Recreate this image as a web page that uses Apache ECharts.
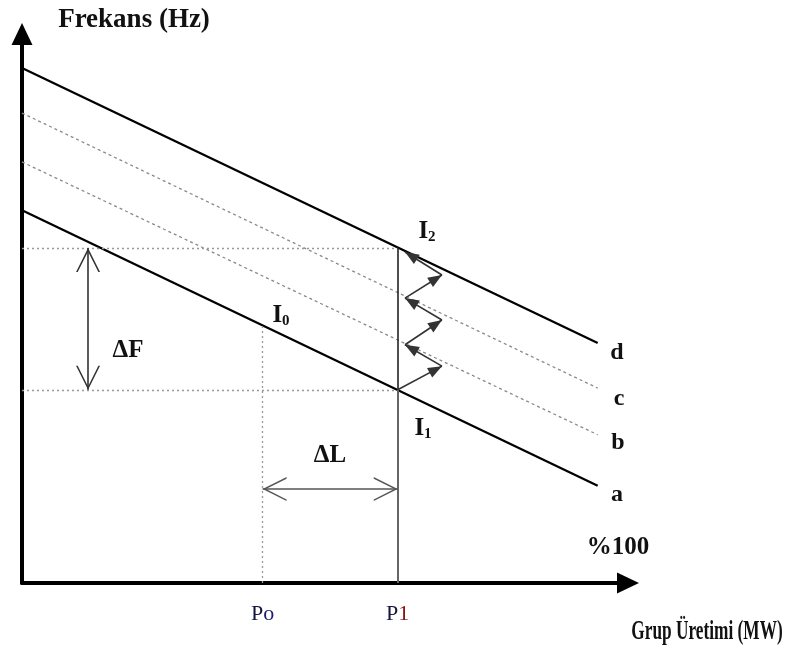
<!DOCTYPE html>
<html>
<head>
<meta charset="utf-8">
<script src="https://cdn.jsdelivr.net/npm/echarts@6/dist/echarts.min.js"></script>
<style>
html, body { margin: 0; padding: 0; background: #fff; }
#chart { width: 791px; height: 649px; }
</style>
</head>
<body>
<div id="chart"></div>
<script>
// droop lines a..d : [Grup Üretimi, Frekans] at the y axis and at the right end
const lineA = [[0, 67.9], [95.0, 17.7]]
const lineB = [[0, 76.7], [95.0, 27.0]]
const lineC = [[0, 85.6], [95.0, 35.5]]
const lineD = [[0, 93.8], [95.0, 43.7]]

// operating points
const P0 = 39.7
const P1 = 62.0
const pointI0 = [P0, 46.8]
const pointI1 = [P1, 35.2]
const pointI2 = [P1, 61.0]

// zig-zag from I1 up to I2
const stairs = [[62.0, 35.2], [69.3, 39.5], [63.2, 43.4], [69.3, 47.9], [63.2, 51.9], [69.3, 56.1], [63.2, 60.3]]

// ΔF and ΔL arrows
const deltaFx = 10.9
const deltaLy = 17.1

// x tick labels
const xTickValues = [P0, P1]
const xTickLabels = ['{p|P}{o|o}', '{p|P}{r|1}']

const SERIF = '"Liberation Serif", "Times New Roman", serif'

// arrow heads, tip placed in the middle of the box so it lands on the end point
const headFilled = 'path://M5,-10M0,10L5,0L10,10Z'
const headOpen = 'path://M5,-10M0,10L5,0L10,10L9.3,10L5,1.4L0.7,10Z'

const chart = echarts.init(document.getElementById('chart'))

function droop(data, dashed) {
  return {
    type: 'line',
    data: data,
    symbol: 'none',
    silent: true,
    lineStyle: dashed
      ? { color: '#8a8a8a', width: 1.3, type: [3, 3] }
      : { color: '#000', width: 2.3 }
  }
}

function seg(a, b, style, endSym, startSym) {
  return [
    { coord: a, symbol: startSym || 'none', lineStyle: style },
    { coord: b, symbol: endSym || 'none' }
  ]
}

const guideStyle = { color: '#999', width: 1.3, type: [2, 3] }

const option = {
  animation: false,
  backgroundColor: '#fff',
  grid: { left: 22, top: 34, right: 163, bottom: 66, containLabel: false },
  xAxis: {
    type: 'value', min: 0, max: 100,
    splitLine: { show: false },
    axisTick: { show: false },
    axisLine: {
      lineStyle: { color: '#000', width: 4 },
      symbol: ['none', 'triangle'], symbolSize: [21, 22]
    },
    axisLabel: {
      customValues: xTickValues,
      margin: 20,
      fontFamily: SERIF,
      formatter: function (v) {
        for (let i = 0; i < xTickValues.length; i++) {
          if (Math.abs(v - xTickValues[i]) < 0.01) return xTickLabels[i]
        }
        return ''
      },
      rich: {
        p: { fontFamily: SERIF, fontSize: 22, color: '#14143c' },
        o: { fontFamily: SERIF, fontSize: 22, color: '#1c1c70' },
        r: { fontFamily: SERIF, fontSize: 22, color: '#8a1010' }
      }
    }
  },
  yAxis: {
    type: 'value', min: 0, max: 100,
    splitLine: { show: false },
    axisTick: { show: false },
    axisLabel: { show: false },
    axisLine: {
      lineStyle: { color: '#000', width: 4 },
      symbol: ['none', 'triangle'], symbolSize: [21, 22]
    }
  },
  series: [
    droop(lineA, false),
    droop(lineB, true),
    droop(lineC, true),
    droop(lineD, false),
    {
      type: 'line', data: [], silent: true,
      markLine: {
        silent: true, animation: false,
        label: { show: false },
        emphasis: { disabled: true },
        symbolSize: [11, 28],
        data: [
          // dotted guides
          seg([0, pointI2[1]], pointI2, guideStyle),
          seg([0, pointI1[1]], pointI1, guideStyle),
          seg(pointI0, [P0, 0], guideStyle),
          // P1 vertical
          seg(pointI2, pointI1, { color: '#222', width: 1.6, type: 'solid' }),
          seg(pointI1, [P1, 0], { color: '#666', width: 2, type: 'solid' })
        ].concat(stairs.slice(1).map(function (p, i) {
          return seg(stairs[i], p, { color: '#333', width: 1.6, type: 'solid' }, headFilled)
        }))
      }
    },
    {
      type: 'line', data: [], silent: true,
      markLine: {
        silent: true, animation: false,
        label: { show: false },
        emphasis: { disabled: true },
        symbolSize: [24, 48],
        data: [
          seg([deltaFx, pointI2[1]], [deltaFx, pointI1[1]], { color: '#333', width: 1.6, type: 'solid' }, headOpen, headOpen),
          seg([P0, deltaLy], [P1, deltaLy], { color: '#555', width: 1.6, type: 'solid' }, headOpen, headOpen)
        ]
      }
    }
  ],
  graphic: [
    { type: 'text', x: 134, y: 20, style: { text: 'Frekans (Hz)', font: 'bold 27px ' + SERIF, fill: '#111', align: 'center', verticalAlign: 'middle' } },
    { type: 'text', x: 707, y: 632, scaleX: 0.64, style: { text: 'Grup Üretimi (MW)', font: 'bold 27px ' + SERIF, fill: '#111', align: 'center', verticalAlign: 'middle' } },
    { type: 'text', x: 618, y: 548, style: { text: '%100', font: 'bold 25px ' + SERIF, fill: '#111', align: 'center', verticalAlign: 'middle' } },
    { type: 'text', x: 128, y: 351, style: { text: 'ΔF', font: 'bold 25px ' + SERIF, fill: '#111', align: 'center', verticalAlign: 'middle' } },
    { type: 'text', x: 330, y: 456, style: { text: 'ΔL', font: 'bold 25px ' + SERIF, fill: '#111', align: 'center', verticalAlign: 'middle' } },
    { type: 'text', x: 617, y: 353, style: { text: 'd', font: 'bold 24px ' + SERIF, fill: '#111', align: 'center', verticalAlign: 'middle' } },
    { type: 'text', x: 619, y: 399, style: { text: 'c', font: 'bold 24px ' + SERIF, fill: '#111', align: 'center', verticalAlign: 'middle' } },
    { type: 'text', x: 618, y: 443, style: { text: 'b', font: 'bold 24px ' + SERIF, fill: '#111', align: 'center', verticalAlign: 'middle' } },
    { type: 'text', x: 617, y: 495, style: { text: 'a', font: 'bold 24px ' + SERIF, fill: '#111', align: 'center', verticalAlign: 'middle' } },
    { type: 'text', x: 427, y: 232, style: { text: '{i|I}{s|2}', align: 'center', verticalAlign: 'middle', rich: { i: { font: 'bold 25px ' + SERIF, fill: '#111', lineHeight: 26 }, s: { font: 'bold 15px ' + SERIF, fill: '#111', lineHeight: 26, verticalAlign: 'bottom' } } } },
    { type: 'text', x: 281, y: 316, style: { text: '{i|I}{s|0}', align: 'center', verticalAlign: 'middle', rich: { i: { font: 'bold 25px ' + SERIF, fill: '#111', lineHeight: 26 }, s: { font: 'bold 15px ' + SERIF, fill: '#111', lineHeight: 26, verticalAlign: 'bottom' } } } },
    { type: 'text', x: 423, y: 429, style: { text: '{i|I}{s|1}', align: 'center', verticalAlign: 'middle', rich: { i: { font: 'bold 25px ' + SERIF, fill: '#111', lineHeight: 26 }, s: { font: 'bold 15px ' + SERIF, fill: '#111', lineHeight: 26, verticalAlign: 'bottom' } } } }
  ]
}

chart.setOption(option)
window.addEventListener('resize', () => {
  chart.resize()
})
</script>
</body>
</html>
